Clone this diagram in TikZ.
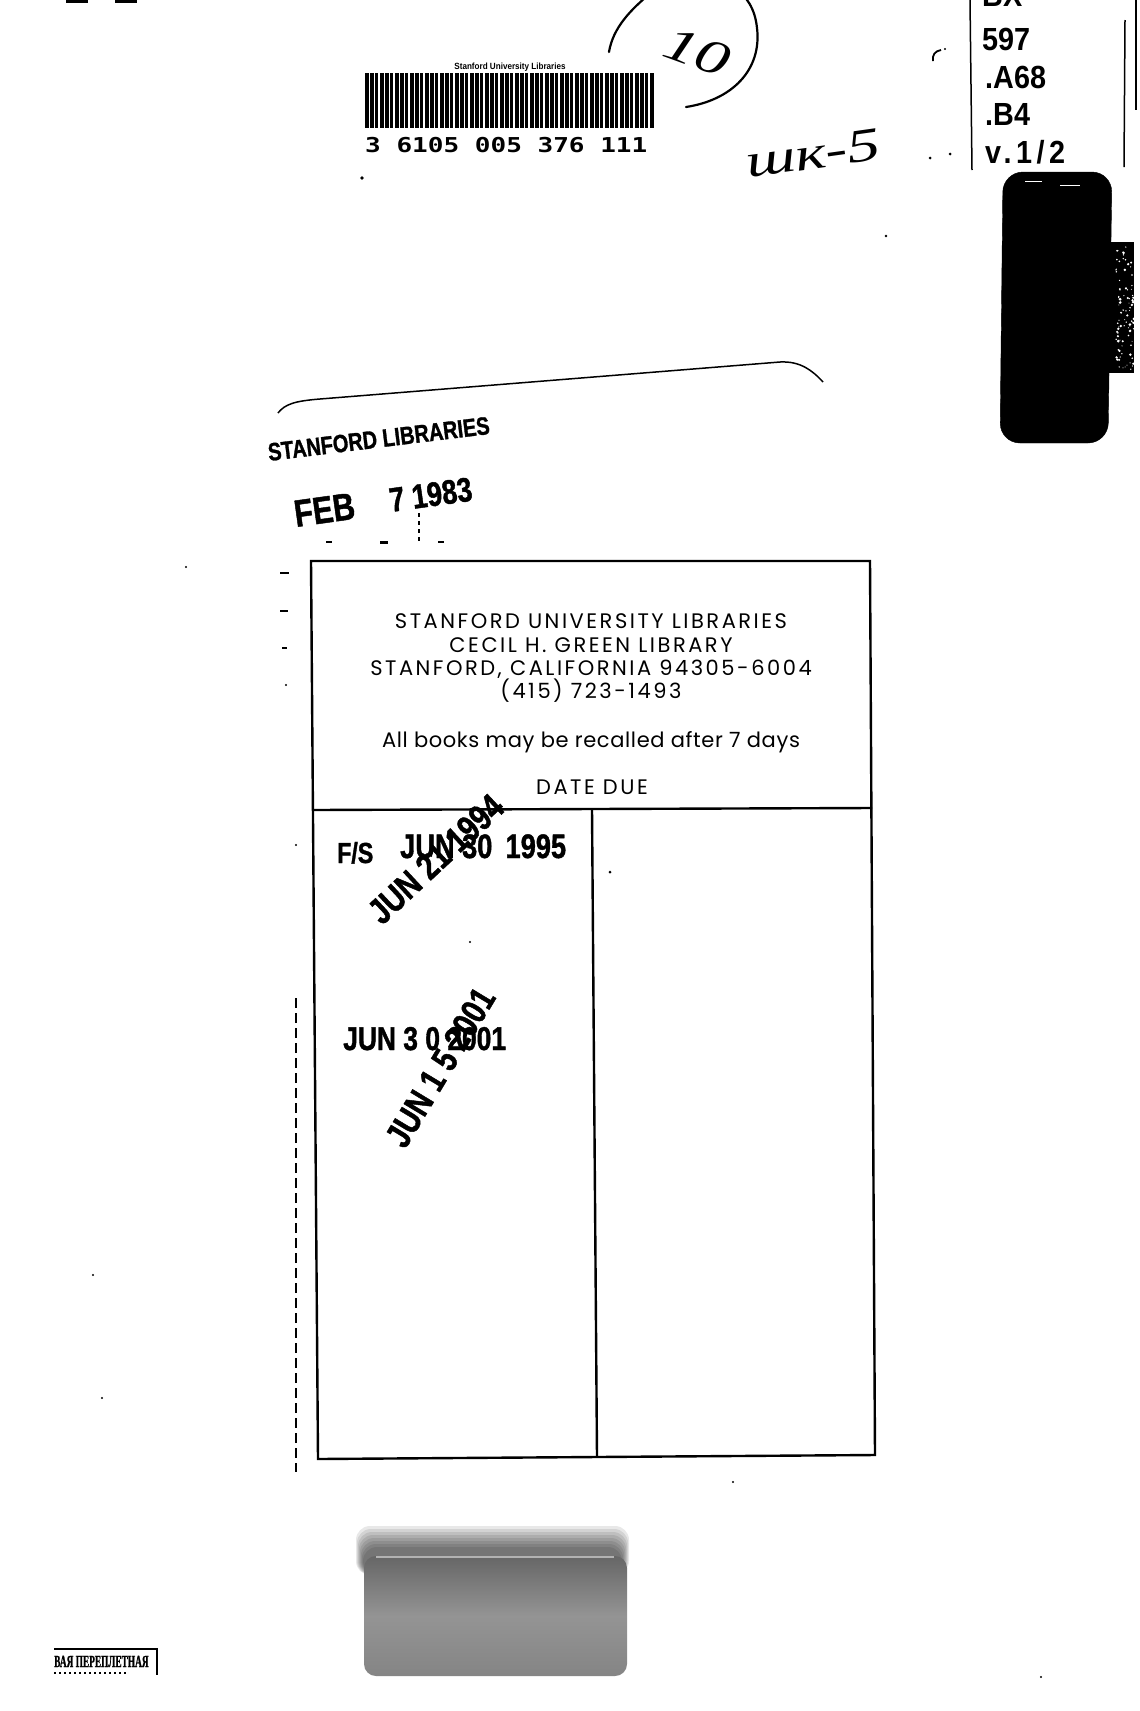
\documentclass[tikz,border=0pt]{standalone}
\usepackage{fontspec}
\setmainfont{Liberation Serif}
\newfontfamily\cardfont[LetterSpace=3]{Poppins}
\newfontfamily\cardcaps[LetterSpace=12]{Poppins}
\newfontfamily\stampfont[FakeStretch=0.8,FakeBold=1.2]{Liberation Sans}
\newfontfamily\callfont[FakeStretch=0.9]{Liberation Sans}
\newfontfamily\callwide[FakeStretch=0.9,LetterSpace=14]{Liberation Sans}
\newfontfamily\barfont[FakeStretch=1.27]{DejaVu Sans Mono}
\newfontfamily\handfont[FakeStretch=1.4]{Liberation Serif}
\newfontfamily\cyrfont[FakeStretch=0.55,FakeBold=1]{Liberation Serif}
\newcommand{\fsz}[1]{\fontsize{#1}{#1}\selectfont}
\tikzset{
  cardline/.style={font=\cardcaps, anchor=base, inner sep=0},
  stamp/.style={font=\stampfont\bfseries, anchor=base west, inner sep=0},
  callno/.style={font=\callfont\bfseries, anchor=base west, inner sep=0},
}

\begin{document}
\begin{tikzpicture}[x=1pt,y=-1pt]
\useasboundingbox (0,0) rectangle (1140,1711);
\fill[white] (0,0) rectangle (1140,1711);
\fill (66,0) rectangle (88,3); % smudges top left
\fill (115,0) rectangle (137,3);

% barcode
\node[font=\callfont\bfseries, inner sep=0, anchor=base] (barlabel) at (510,69) {\fsz{9}Stanford University Libraries};
\foreach \i in {0,...,57}{
  \pgfmathsetmacro\w{ifthenelse(mod(\i*\i+2*\i,3)==0,3.9,2.5)}
  \fill (365+\i*5,73) rectangle ++(\w,55);
}
\node[font=\barfont\bfseries, inner sep=0, anchor=base west] (barnum) at (365,152) {\fsz{20.5}3 6105 005 376 111};
\fill (362,178) circle (1.8);

% circled number
\draw[line width=2.2, line cap=round] (686,107) .. controls (732,100) and (762,70) .. (757,28) .. controls (755,8) and (746,-4) .. (735,-12);
\draw[line width=2.2, line cap=round] (609,52) .. controls (613,28) and (630,10) .. (652,-8);
\node[font=\handfont\itshape, inner sep=0, rotate=-20] (ten) at (697,52) {\fsz{48}10};
\node[font=\handfont\itshape, inner sep=0, anchor=base west, rotate=8] (shk) at (748,178) {\fsz{47}шк-5};
\fill (930,158) circle (1.5);
\fill (950,154) circle (1.5);
\draw[line width=1.8] (941,50) .. controls (935,51) and (932,55) .. (933,61);
\fill (945,49) circle (1.2);
\fill (886,236) circle (1.3);

% call number label
\draw[line width=1.5] (970,0) -- (972,170);
\draw[line width=1.5] (1125,20) -- (1124,167);
\draw[line width=1.5] (1136,0) -- (1136,110);
\node[callno] (bx) at (982,6) {\fsz{32}BX};
\node[callno] (n597) at (982,50) {\fsz{32}597};
\node[callno] (a68) at (985,88) {\fsz{32}.A68};
\node[callno] (b4) at (985,125) {\fsz{32}.B4};
\node[callno, font=\callwide\bfseries] (vol) at (985,163) {\fsz{32}v.1/2};

% black tab
\filldraw[rounded corners=20] (1003,172) -- (1112,172) -- (1108,443) -- (1000,443) -- cycle;
\fill (1108,242) rectangle (1134,373);
\pgfmathsetseed{7}
\foreach \k in {1,...,90}{
  \fill[white] (1116+rnd*18,246+rnd*125) circle (0.4+rnd*1.1);
}
\draw[white, line width=1] (1025,181) -- (1042,181);
\draw[white, line width=1] (1060,185) -- (1080,185);

% pocket edge
\draw[line width=1.5] (278,413) .. controls (285,404) and (295,401) .. (320,399) -- (780,362) .. controls (800,361) and (812,370) .. (823,382);

% stamps
\node[stamp, rotate=7] (stlib) at (269,461) {\fsz{25}STANFORD LIBRARIES};
\node[stamp, rotate=8] (feb) at (296,527) {\fsz{38}FEB};
\node[stamp, rotate=8] (febyr) at (391,512) {\fsz{34}7 1983};
\draw[line width=1.5, dash pattern=on 4 off 4] (419,513) -- (419,543);
\fill (326,541) rectangle (332,543);
\fill (380,541) rectangle (388,544);
\fill (438,541) rectangle (444,543);

% left margin marks
\fill (280,572) rectangle (289,574);
\fill (280,610) rectangle (288,612);
\fill (282,647) rectangle (287,649);
\fill (286,685) circle (1.2);
\fill (186,567) circle (1.2);
\fill (296,845) circle (1.2);
\draw[line width=1.3, dash pattern=on 10 off 5] (296,998) -- (296,1472);
\fill (93,1275) circle (1.2);
\fill (102,1398) circle (1.2);
\fill (733,1482) circle (1.2);
\fill (1041,1677) circle (1.2);

% date due card
\draw[line width=2.4] (311,561) -- (870,561) -- (875,1455) -- (318,1459) -- cycle;
\draw[line width=2.4] (313,810) -- (872,808);
\draw[line width=2.4] (592,809) -- (597,1457);
\node[cardline] (l1) at (591,628) {\fsz{21}STANFORD UNIVERSITY LIBRARIES};
\node[cardline] (l2) at (591,652) {\fsz{21}CECIL H. GREEN LIBRARY};
\node[cardline] (l3) at (591,675) {\fsz{21}STANFORD, CALIFORNIA 94305-6004};
\node[cardline] (l4) at (591,698) {\fsz{21}(415) 723-1493};
\node[cardline, font=\cardfont] (recall) at (591,747) {\fsz{21}All books may be recalled after 7 days};
\node[cardline] (due) at (592,794) {\fsz{21}DATE DUE};

% date stamps
\node[stamp] (fs) at (337,863) {\fsz{29}F/S};
\node[stamp] (d95) at (400,858) {\fsz{34}JUN 30 \,1995};
\node[stamp, rotate=43] (d94) at (382,926) {\fsz{36}JUN 21 1994};
\node[stamp] (d01a) at (343,1050) {\fsz{33}JUN 3 0 2001};
\node[stamp, rotate=59] (d01b) at (405,1150) {\fsz{36}JUN 1 5 2001};
\fill (470,942) circle (1.2);
\fill (610,872) circle (1.5);

% grey pad
\foreach \s in {0,...,7}{
  \fill[black, opacity=0.09, rounded corners=14] (356+\s,1526+\s*3) rectangle (629-\s,1575);
}
\shade[rounded corners=12, top color=black!60, bottom color=black!48, middle color=black!42] (364,1676) -- (364,1556) -- (627,1556) -- (627,1676) -- cycle;
\draw[black!30, line width=1.2] (376,1557) -- (614,1557);

% bindery label
\draw[line width=1.5] (54,1649) -- (157,1649) -- (157,1675);
\node[font=\cyrfont\bfseries, inner sep=0, anchor=base west] (bind) at (54,1667) {\fsz{17}ВАЯ ПЕРЕПЛЕТНАЯ};
\draw[line width=1.6, dash pattern=on 2 off 3] (54,1673) -- (126,1673);
\end{tikzpicture}
\end{document}
